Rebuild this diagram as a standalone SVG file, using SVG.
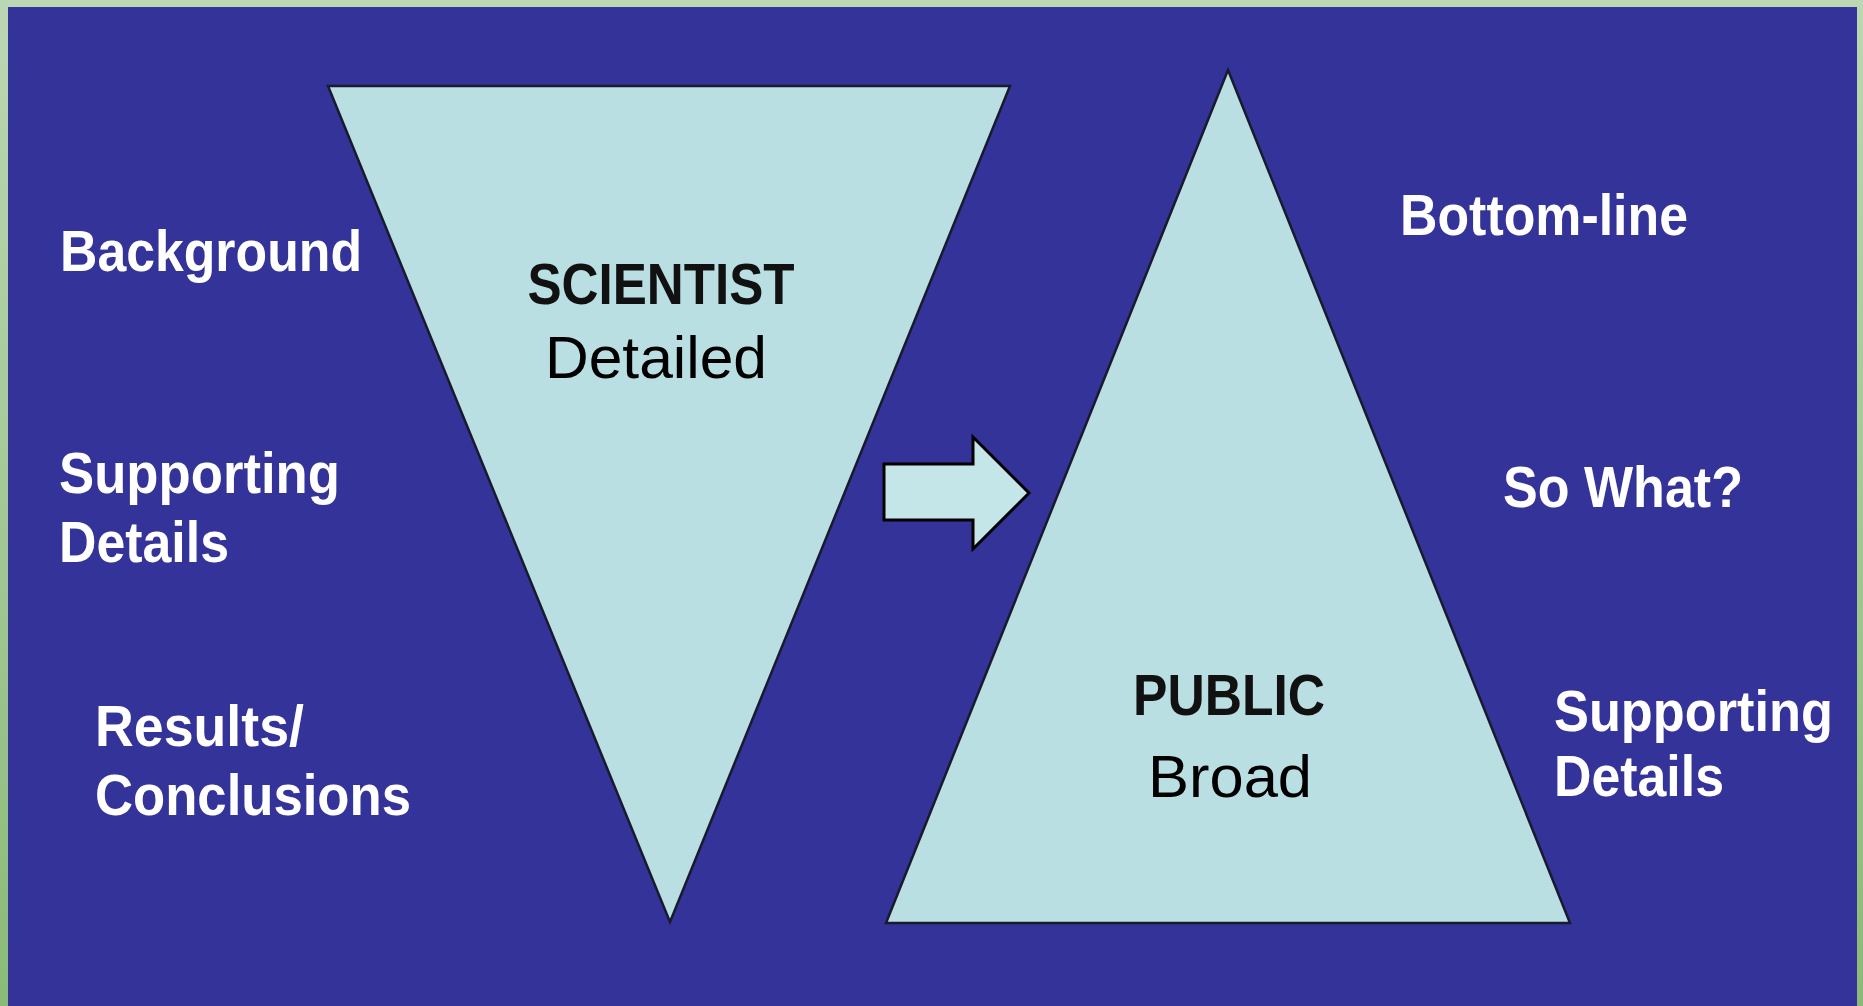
<svg xmlns="http://www.w3.org/2000/svg" width="1863" height="1006" viewBox="0 0 1863 1006">
<defs>
<linearGradient id="frame" x1="0" y1="0" x2="0" y2="1">
<stop offset="0" stop-color="#bcd7b3"/>
<stop offset="1" stop-color="#8bba78"/>
</linearGradient>
</defs>
<style>
.tri{fill:#b9dfe3;stroke:#1a1a2e;stroke-width:2.5;stroke-linejoin:miter}
.lbl{font-family:"Liberation Sans",Arial,sans-serif;font-weight:bold;font-size:58px;fill:#ffffff}
.head{font-family:"Liberation Sans",Arial,sans-serif;font-weight:bold;font-size:58px;fill:#111111;text-anchor:middle}
.sub{font-family:"Liberation Sans",Arial,sans-serif;font-size:60px;fill:#000000;text-anchor:middle}
.arrow{fill:#c5e6e8;stroke:#000000;stroke-width:3}
</style>
<rect x="0" y="0" width="1863" height="1006" fill="url(#frame)"/>
<rect x="8" y="7" width="1849" height="999" fill="#333399"/>

<g id="scientist">
<polygon class="tri" points="328,86 1010,86 670,922"/>
<text class="head" x="661" y="304" textLength="267" lengthAdjust="spacingAndGlyphs">SCIENTIST</text>
<text class="sub" x="656" y="378" textLength="222" lengthAdjust="spacingAndGlyphs">Detailed</text>
</g>

<g id="public">
<polygon class="tri" points="1228,70 1570,923 886,923"/>
<text class="head" x="1229" y="715" textLength="192" lengthAdjust="spacingAndGlyphs">PUBLIC</text>
<text class="sub" x="1230" y="797" textLength="164" lengthAdjust="spacingAndGlyphs">Broad</text>
</g>

<g id="connectors">
<polygon class="arrow" points="884,464 973,464 973,437 1029,493 973,549 973,520 884,520"/>
</g>

<g id="left-labels">
<text class="lbl" x="60" y="271" textLength="302" lengthAdjust="spacingAndGlyphs">Background</text>
<text class="lbl" x="59" y="493" textLength="281" lengthAdjust="spacingAndGlyphs">Supporting</text>
<text class="lbl" x="59" y="562" textLength="170" lengthAdjust="spacingAndGlyphs">Details</text>
<text class="lbl" x="95" y="746" textLength="209" lengthAdjust="spacingAndGlyphs">Results/</text>
<text class="lbl" x="95" y="815" textLength="316" lengthAdjust="spacingAndGlyphs">Conclusions</text>
</g>

<g id="right-labels">
<text class="lbl" x="1400" y="235" textLength="288" lengthAdjust="spacingAndGlyphs">Bottom-line</text>
<text class="lbl" x="1503" y="507" textLength="240" lengthAdjust="spacingAndGlyphs">So What?</text>
<text class="lbl" x="1554" y="731" textLength="279" lengthAdjust="spacingAndGlyphs">Supporting</text>
<text class="lbl" x="1554" y="796" textLength="170" lengthAdjust="spacingAndGlyphs">Details</text>
</g>
</svg>
